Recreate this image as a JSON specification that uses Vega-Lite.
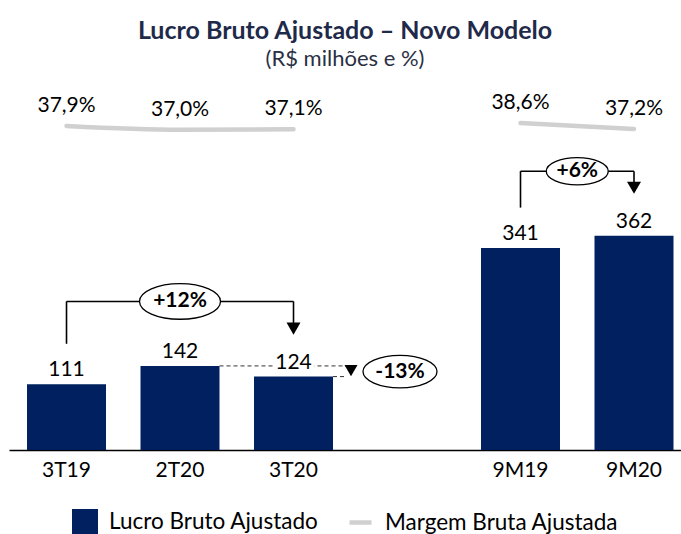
{
  "$schema": "https://vega.github.io/schema/vega-lite/v6.json",
  "width": 672,
  "height": 368,
  "padding": {"left": 9, "right": 0, "top": 19, "bottom": 0},
  "title": {
    "text": "Lucro Bruto Ajustado – Novo Modelo",
    "subtitle": "(R$ milhões e %)",
    "fontSize": 25,
    "fontWeight": "bold",
    "font": "Lato",
    "color": "#1f2a4a",
    "subtitleFontSize": 22,
    "subtitleFont": "Lato",
    "subtitleColor": "#2b2f45",
    "subtitlePadding": 5,
    "anchor": "middle",
    "offset": 12
  },
  "datasets": {
    "barras": [
      {"periodo": "3T19", "lucro": 111},
      {"periodo": "2T20", "lucro": 142},
      {"periodo": "3T20", "lucro": 124},
      {"periodo": "9M19", "lucro": 341},
      {"periodo": "9M20", "lucro": 362}
    ],
    "margem": [
      {"periodo": "3T19", "margem": 37.9, "grupo": "trimestre"},
      {"periodo": "2T20", "margem": 37.0, "grupo": "trimestre"},
      {"periodo": "3T20", "margem": 37.1, "grupo": "trimestre"},
      {"periodo": "9M19", "margem": 38.6, "grupo": "acumulado"},
      {"periodo": "9M20", "margem": 37.2, "grupo": "acumulado"}
    ],
    "chaves": [
      {"de": "3T19", "para": "3T20", "v0": 111, "v1": 124, "vmax": 142, "rotulo": "+12%"},
      {"de": "9M19", "para": "9M20", "v0": 341, "v1": 362, "vmax": 362, "rotulo": "+6%"}
    ],
    "queda": [
      {"de": "2T20", "para": "3T20", "v0": 142, "v1": 124, "rotulo": "-13%"}
    ]
  },
  "layer": [
    {
      "layer": [
        {
          "data": {"name": "barras"},
          "mark": {"type": "bar", "opacity": 1},
          "encoding": {
            "x": {
              "field": "periodo",
              "type": "nominal",
              "scale": {"domain": ["3T19", "2T20", "3T20", " ", "9M19", "9M20"], "paddingInner": 0.304, "paddingOuter": 0.1124, "align": 0.706},
              "axis": {"title": null}
            },
            "y": {"field": "lucro", "type": "quantitative", "scale": {"domain": [0, 621.6], "nice": false, "zero": true}, "axis": null},
            "color": {
              "datum": "Lucro Bruto Ajustado",
              "type": "nominal",
              "scale": {"domain": ["Lucro Bruto Ajustado"], "range": ["#002060"]},
              "legend": {
                "orient": "bottom",
                "title": null,
                "symbolType": "square",
                "symbolSize": 676,
                "symbolStrokeWidth": 0
              }
            }
          }
        },
        {
          "data": {"name": "queda"},
          "mark": {"type": "rule", "color": "#333333", "strokeWidth": 1, "strokeDash": [4, 3], "x2Offset": 17},
          "encoding": {
            "x": {"field": "de", "type": "nominal", "bandPosition": 1, "axis": {"title": null}},
            "x2": {"field": "para", "bandPosition": 1},
            "y": {"field": "v0", "type": "quantitative"}
          }
        },
        {
          "data": {"name": "queda"},
          "mark": {"type": "rule", "color": "#333333", "strokeWidth": 1, "strokeDash": [4, 3], "x2Offset": 14},
          "encoding": {
            "x": {"field": "para", "type": "nominal", "bandPosition": 1, "axis": {"title": null}},
            "x2": {"field": "para", "bandPosition": 1},
            "y": {"field": "v1", "type": "quantitative"}
          }
        },
        {
          "data": {"name": "barras"},
          "mark": {"type": "text", "fontSize": 21, "font": "Lato", "baseline": "alphabetic", "dy": -8, "fill": "#ffffff", "stroke": "#ffffff", "strokeWidth": 7},
          "encoding": {
            "x": {"field": "periodo", "type": "nominal", "axis": {"title": null}},
            "y": {"field": "lucro", "type": "quantitative"},
            "text": {"field": "lucro", "type": "quantitative"}
          }
        },
        {
          "data": {"name": "barras"},
          "mark": {"type": "text", "fontSize": 21, "font": "Lato", "baseline": "alphabetic", "dy": -8, "color": "#000000"},
          "encoding": {
            "x": {"field": "periodo", "type": "nominal", "axis": {"title": null}},
            "y": {"field": "lucro", "type": "quantitative"},
            "text": {"field": "lucro", "type": "quantitative"}
          }
        },
        {
          "data": {"name": "chaves"},
          "mark": {"type": "rule", "color": "#000000", "strokeWidth": 1.6, "yOffset": -40.5, "y2Offset": -64.5},
          "encoding": {
            "x": {"field": "de", "type": "nominal", "axis": {"title": null}},
            "y": {"field": "v0", "type": "quantitative"},
            "y2": {"field": "vmax"}
          }
        },
        {
          "data": {"name": "chaves"},
          "mark": {"type": "rule", "color": "#000000", "strokeWidth": 1.6, "yOffset": -64.5},
          "encoding": {
            "x": {"field": "de", "type": "nominal", "bandPosition": 0.5, "axis": {"title": null}},
            "x2": {"field": "para", "bandPosition": 0.5},
            "y": {"field": "vmax", "type": "quantitative"}
          }
        },
        {
          "data": {"name": "chaves"},
          "mark": {"type": "rule", "color": "#000000", "strokeWidth": 1.6, "yOffset": -64.5, "y2Offset": -53},
          "encoding": {
            "x": {"field": "para", "type": "nominal", "axis": {"title": null}},
            "y": {"field": "vmax", "type": "quantitative"},
            "y2": {"field": "v1"}
          }
        },
        {
          "data": {"name": "chaves"},
          "mark": {"type": "point", "shape": "triangle-down", "filled": true, "color": "#000000", "opacity": 1, "size": 196, "yOffset": -48},
          "encoding": {
            "x": {"field": "para", "type": "nominal", "axis": {"title": null}},
            "y": {"field": "v1", "type": "quantitative"}
          }
        },
        {
          "data": {"name": "chaves"},
          "mark": {"type": "point", "shape": "M-1,0C-1,-0.243,-0.552,-0.44,0,-0.44C0.552,-0.44,1,-0.243,1,0C1,0.243,0.552,0.44,0,0.44C-0.552,0.44,-1,0.243,-1,0Z", "filled": false, "fill": "#ffffff", "fillOpacity": 1, "stroke": "#000000", "strokeWidth": 1.3, "opacity": 1, "yOffset": -64.5, "xOffset": {"expr": "(scale('x', datum.para) - scale('x', datum.de)) / 2"}},
          "encoding": {
            "x": {"field": "de", "type": "nominal", "axis": {"title": null}},
            "y": {"field": "vmax", "type": "quantitative"},
            "size": {"condition": {"test": "length(datum.rotulo) > 3", "value": 6561}, "value": 3844}
          }
        },
        {
          "data": {"name": "chaves"},
          "mark": {"type": "text", "fontSize": 21, "font": "Lato", "fontWeight": "bold", "color": "#000000", "baseline": "middle", "yOffset": -64.5, "xOffset": {"expr": "(scale('x', datum.para) - scale('x', datum.de)) / 2"}},
          "encoding": {
            "x": {"field": "de", "type": "nominal", "axis": {"title": null}},
            "y": {"field": "vmax", "type": "quantitative"},
            "text": {"field": "rotulo", "type": "nominal"}
          }
        },
        {
          "data": {"name": "queda"},
          "mark": {"type": "point", "shape": "triangle-down", "filled": true, "color": "#000000", "opacity": 1, "size": 170, "xOffset": 18, "yOffset": -6},
          "encoding": {
            "x": {"field": "para", "type": "nominal", "bandPosition": 1, "axis": {"title": null}},
            "y": {"field": "v1", "type": "quantitative"}
          }
        },
        {
          "data": {"name": "queda"},
          "mark": {"type": "point", "shape": "M-1,0C-1,-0.243,-0.552,-0.44,0,-0.44C0.552,-0.44,1,-0.243,1,0C1,0.243,0.552,0.44,0,0.44C-0.552,0.44,-1,0.243,-1,0Z", "filled": false, "fill": "#ffffff", "fillOpacity": 1, "stroke": "#000000", "strokeWidth": 1.3, "opacity": 1, "size": 5476, "xOffset": 67, "yOffset": -5},
          "encoding": {
            "x": {"field": "para", "type": "nominal", "bandPosition": 1, "axis": {"title": null}},
            "y": {"field": "v1", "type": "quantitative"}
          }
        },
        {
          "data": {"name": "queda"},
          "mark": {"type": "text", "fontSize": 21, "font": "Lato", "fontWeight": "bold", "color": "#000000", "baseline": "middle", "xOffset": 67, "yOffset": -5},
          "encoding": {
            "x": {"field": "para", "type": "nominal", "bandPosition": 1, "axis": {"title": null}},
            "y": {"field": "v1", "type": "quantitative"},
            "text": {"field": "rotulo", "type": "nominal"}
          }
        }
      ]
    },
    {
      "data": {"name": "margem"},
      "layer": [
        {
          "mark": {"type": "line", "interpolate": "monotone", "strokeWidth": 4.5, "strokeCap": "round", "opacity": 1},
          "encoding": {
            "x": {"field": "periodo", "type": "nominal", "axis": {"title": null}},
            "y": {"field": "margem", "type": "quantitative", "scale": {"domain": [-39.5, 48.4], "nice": false, "zero": false}, "axis": null},
            "detail": {"field": "grupo", "type": "nominal"},
            "color": {
              "datum": "Margem Bruta Ajustada",
              "type": "nominal",
              "scale": {"domain": ["Margem Bruta Ajustada"], "range": ["#d0d0d0"]},
              "legend": {
                "orient": "bottom",
                "title": null,
                "symbolType": "stroke",
                "symbolSize": 484,
                "symbolStrokeWidth": 4.5
              }
            }
          }
        },
        {
          "mark": {"type": "text", "fontSize": 21, "font": "Lato", "color": "#000000", "baseline": "middle", "dy": -20, "text": {"expr": "replace(format(datum.margem, '.1f'), '.', ',') + '%'"}},
          "encoding": {
            "x": {"field": "periodo", "type": "nominal", "axis": {"title": null}},
            "y": {"field": "margem", "type": "quantitative"}
          }
        }
      ]
    }
  ],
  "resolve": {"scale": {"y": "independent", "color": "independent"}},
  "config": {
    "view": {"stroke": null},
    "font": "Lato",
    "axisX": {"ticks": false, "domainColor": "#000000", "domainWidth": 1.5, "labelFontSize": 21, "labelFont": "Lato", "labelColor": "#000000", "labelPadding": 9, "labelAngle": 0, "grid": false},
    "legend": {
      "labelFontSize": 22.5,
      "labelFont": "Lato",
      "labelColor": "#000000",
      "labelLimit": 400,
      "labelOffset": 11,
      "offset": 29,
      "layout": {"bottom": {"anchor": "middle", "direction": "horizontal", "margin": 28}}
    }
  }
}
